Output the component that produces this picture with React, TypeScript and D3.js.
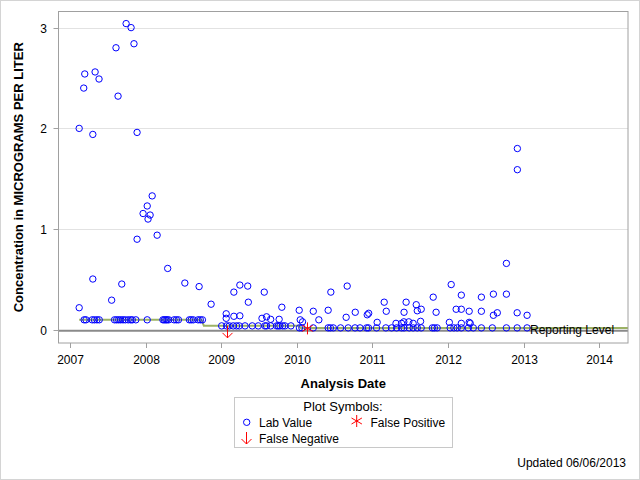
import React from "react";
import * as d3 from "d3";

// ---- data ----
const labDates: string[] = [
  // higher values
  "2007-09-28","2007-10-22","2007-11-05","2007-08-10","2007-03-12","2007-05-01","2007-05-20","2007-03-07",
  "2007-08-20","2007-02-13","2007-04-20","2007-11-20","2008-02-01","2008-01-08","2007-12-19","2008-01-22",
  "2008-01-12","2007-11-20","2008-02-25","2008-04-16","2007-04-20","2007-09-07","2008-07-08","2008-09-15",
  "2007-02-13","2007-07-20","2008-11-12","2009-03-02","2009-03-31","2009-05-08","2009-05-11","2009-01-24",
  "2009-01-24","2009-03-02","2009-03-31","2009-07-27","2009-10-20","2009-07-16","2009-08-07","2009-08-27",
  "2009-10-07","2010-01-12","2010-01-17","2010-01-28","2010-03-21","2010-04-17","2010-06-01","2010-06-14",
  "2010-09-01","2010-08-27","2010-10-10","2010-12-07","2010-12-14","2011-01-24","2011-02-27","2011-03-09",
  "2011-04-25","2011-05-22","2011-06-02","2011-06-26","2011-07-17","2011-06-03","2011-06-13","2011-08-01",
  "2011-08-06","2011-08-25","2011-08-22","2011-10-22","2011-11-05","2012-01-17","2012-01-08","2012-03-06",
  "2012-02-10","2012-03-06","2012-03-06","2012-04-13","2012-04-13","2012-04-18","2012-06-11","2012-06-11",
  "2012-08-08","2012-08-08","2012-08-27","2012-10-10","2012-10-10","2012-12-02","2012-12-02","2012-12-01",
  "2013-01-18",
  // 0.1 row
  "2007-03-09","2007-03-18","2007-04-17","2007-04-28","2007-05-10","2007-05-21","2007-08-03","2007-08-13",
  "2007-08-23","2007-09-02","2007-09-13","2007-09-24","2007-10-08","2007-10-20","2007-10-28","2007-11-14",
  "2008-01-08","2008-03-24","2008-03-31","2008-04-07","2008-04-13","2008-04-21","2008-05-17","2008-05-28",
  "2008-06-07","2008-07-30","2008-08-08","2008-08-18","2008-09-10","2008-09-21","2008-10-01",
  // 0.04 row
  "2009-01-02","2009-01-26","2009-02-08","2009-02-27","2009-03-15","2009-03-28","2009-04-25","2009-05-30",
  "2009-06-28","2009-07-30","2009-08-07","2009-08-27","2009-09-25","2009-10-03","2009-10-11","2009-10-24",
  "2009-11-04","2009-12-03",
  // 0.02 row
  "2010-01-13","2010-01-25","2010-03-21","2010-06-01","2010-06-12","2010-06-26","2010-07-31","2010-09-06",
  "2010-10-09","2010-11-02","2010-12-04","2010-12-13","2011-01-21","2011-03-07","2011-04-04","2011-04-28",
  "2011-05-22","2011-06-03","2011-06-28","2011-07-17","2011-08-06","2011-08-25","2011-10-18","2011-10-28",
  "2011-11-10","2012-01-12","2012-01-30","2012-02-15","2012-03-06","2012-04-09","2012-05-03","2012-06-11",
  "2012-08-03","2012-10-10","2012-12-01","2013-01-18",
];
const labValues: number[] = [
  3.04, 3.0, 2.84, 2.8, 2.54, 2.56, 2.49, 2.4,
  2.32, 2.0, 1.94, 1.96, 1.33, 1.23, 1.155, 1.14,
  1.1, 0.9, 0.94, 0.61, 0.505, 0.455, 0.465, 0.43,
  0.22, 0.295, 0.255, 0.375, 0.445, 0.435, 0.275, 0.16,
  0.115, 0.135, 0.14, 0.375, 0.225, 0.115, 0.13, 0.105,
  0.105, 0.195, 0.1, 0.08, 0.185, 0.1, 0.195, 0.375,
  0.435, 0.125, 0.175, 0.15, 0.165, 0.075, 0.275, 0.185,
  0.065, 0.065, 0.08, 0.08, 0.065, 0.175, 0.275, 0.25,
  0.19, 0.205, 0.085, 0.325, 0.175, 0.45, 0.075, 0.345,
  0.205, 0.205, 0.065, 0.185, 0.075, 0.065, 0.325, 0.185,
  0.355, 0.145, 0.17, 0.66, 0.355, 1.8, 1.59, 0.17,
  0.145,
  0.1, 0.1, 0.1, 0.1, 0.1, 0.1, 0.1, 0.1,
  0.1, 0.1, 0.1, 0.1, 0.1, 0.1, 0.1, 0.1,
  0.1, 0.1, 0.1, 0.1, 0.1, 0.1, 0.1, 0.1,
  0.1, 0.1, 0.1, 0.1, 0.1, 0.1, 0.1,
  0.04, 0.04, 0.04, 0.04, 0.04, 0.04, 0.04, 0.04,
  0.04, 0.04, 0.04, 0.04, 0.04, 0.04, 0.04, 0.04,
  0.04, 0.04,
  0.02, 0.02, 0.02, 0.02, 0.02, 0.02, 0.02, 0.02,
  0.02, 0.02, 0.02, 0.02, 0.02, 0.02, 0.02, 0.02,
  0.02, 0.02, 0.02, 0.02, 0.02, 0.02, 0.02, 0.02,
  0.02, 0.02, 0.02, 0.02, 0.02, 0.02, 0.02, 0.02,
  0.02, 0.02, 0.02, 0.02,
];
const reportDates: string[] = ["2007-02-13", "2008-09-27", "2008-10-08", "2010-01-08", "2010-01-20", "2014-05-21"];
const reportLevels: number[] = [0.1, 0.1, 0.04, 0.04, 0.02, 0.02];
const falseNegDates: string[] = ["2009-01-26"];
const falseNegValues: number[] = [0.04];
const falsePosDates: string[] = ["2010-02-21"];
const falsePosValues: number[] = [0.015];
const yearTicks: number[] = [2007, 2008, 2009, 2010, 2011, 2012, 2013, 2014];
const yTicks: number[] = [0, 1, 2, 3];

const parse = d3.timeParse("%Y-%m-%d");
const FONT = "'Liberation Sans', Arial, Helvetica, sans-serif";
const BLUE = "#0000ff";
const RED = "#ff0000";

function Asterisk({ cx, cy, s }: { cx: number; cy: number; s: number }) {
  const a = s * Math.cos(Math.PI / 6);
  const b = s * Math.sin(Math.PI / 6);
  return (
    <g stroke={RED} strokeWidth={1}>
      <line x1={cx} y1={cy - s} x2={cx} y2={cy + s} />
      <line x1={cx - a} y1={cy - b} x2={cx + a} y2={cy + b} />
      <line x1={cx - a} y1={cy + b} x2={cx + a} y2={cy - b} />
    </g>
  );
}

function DownArrow({ cx, cy, len }: { cx: number; cy: number; len: number }) {
  return (
    <g stroke={RED} strokeWidth={1} fill="none">
      <line x1={cx} y1={cy} x2={cx} y2={cy + len} />
      <polyline points={`${cx - 5},${cy + len - 5} ${cx},${cy + len} ${cx + 5},${cy + len - 5}`} />
    </g>
  );
}

export default function App() {
  const W = 640, H = 480;
  const L = 58.5, R = 628, T = 11.5, B = 343;
  const x = d3.scaleTime().domain([parse("2006-11-05")!, parse("2014-05-21")!]).range([L, R]);
  const y = d3.scaleLinear().domain([-0.13, 3.16]).range([B, T]);

  const line = d3.line<[Date, number]>().x((d) => x(d[0])).y((d) => y(d[1]));
  const reportPath = line(reportDates.map((d, i) => [parse(d)!, reportLevels[i]]));

  return (
    <svg width={W} height={H} style={{ position: "absolute", left: 0, top: 0, display: "block" }} fontFamily={FONT}>
      <rect x={0} y={0} width={W} height={H} fill="#fff" />
      <rect x={0.5} y={0.5} width={W - 1} height={H - 1} fill="none" stroke="#d4d4d4" />

      {/* gridlines */}
      {yTicks.filter((t) => t > 0).map((t) => (
        <line key={t} x1={L} x2={R} y1={Math.round(y(t)) + 0.5} y2={Math.round(y(t)) + 0.5} stroke="#e2e2e2" />
      ))}

      {/* zero reference line */}
      <line x1={L} x2={R} y1={y(0) + 0.8} y2={y(0) + 0.8} stroke="#8a8a8a" strokeWidth={2} />
      {/* reporting level */}
      <path d={reportPath || ""} fill="none" stroke="#9cb265" strokeWidth={2} />

      {/* lab values */}
      {labDates.map((d, i) => (
        <circle key={i} cx={x(parse(d)!)} cy={y(labValues[i])} r={3.2} fill="none" stroke={BLUE} strokeWidth={1} />
      ))}

      {falseNegDates.map((d, i) => (
        <DownArrow key={i} cx={Math.round(x(parse(d)!)) + 0.5} cy={y(falseNegValues[i])} len={12} />
      ))}
      {falsePosDates.map((d, i) => (
        <Asterisk key={i} cx={x(parse(d)!)} cy={y(falsePosValues[i])} s={6} />
      ))}

      <text x={530} y={334} fontSize={12} fill="#000">Reporting Level</text>

      {/* frame */}
      <rect x={L} y={T} width={R - L} height={B - T} fill="none" stroke="#a0a0a0" />

      {/* x axis */}
      {yearTicks.map((yr) => {
        const px = Math.round(x(new Date(yr, 0, 1))) + 0.5;
        return (
          <g key={yr}>
            <line x1={px} x2={px} y1={B} y2={B + 5} stroke="#a0a0a0" />
            <text x={px} y={364} fontSize={12} textAnchor="middle" fill="#000">{yr}</text>
          </g>
        );
      })}
      {/* y axis */}
      {yTicks.map((t) => {
        const py = Math.round(y(t)) + 0.5;
        return (
          <g key={t}>
            <line x1={L - 5} x2={L} y1={py} y2={py} stroke="#a0a0a0" />
            <text x={47} y={py + 4.5} fontSize={12} textAnchor="end" fill="#000">{t}</text>
          </g>
        );
      })}

      <text x={(L + R) / 2} y={388} fontSize={13} fontWeight="bold" textAnchor="middle" fill="#000">Analysis Date</text>
      <text transform={`translate(23,${(T + B) / 2}) rotate(-90)`} fontSize={13} fontWeight="bold" textAnchor="middle" fill="#000">
        Concentration in MICROGRAMS PER LITER
      </text>

      {/* legend */}
      <rect x={234.5} y={397.5} width={218} height={50} fill="none" stroke="#c8c8c8" />
      <text x={343} y={411} fontSize={13} textAnchor="middle" fill="#000">Plot Symbols:</text>
      <circle cx={246.7} cy={422.3} r={3.2} fill="none" stroke={BLUE} />
      <text x={259} y={426.5} fontSize={12} fill="#000">Lab Value</text>
      <Asterisk cx={356.7} cy={421} s={6} />
      <text x={370.5} y={426.5} fontSize={12} fill="#000">False Positive</text>
      <DownArrow cx={246.5} cy={432} len={12} />
      <text x={259} y={443} fontSize={12} fill="#000">False Negative</text>

      <text x={626} y={467} fontSize={12} textAnchor="end" fill="#000">Updated 06/06/2013</text>
    </svg>
  );
}
